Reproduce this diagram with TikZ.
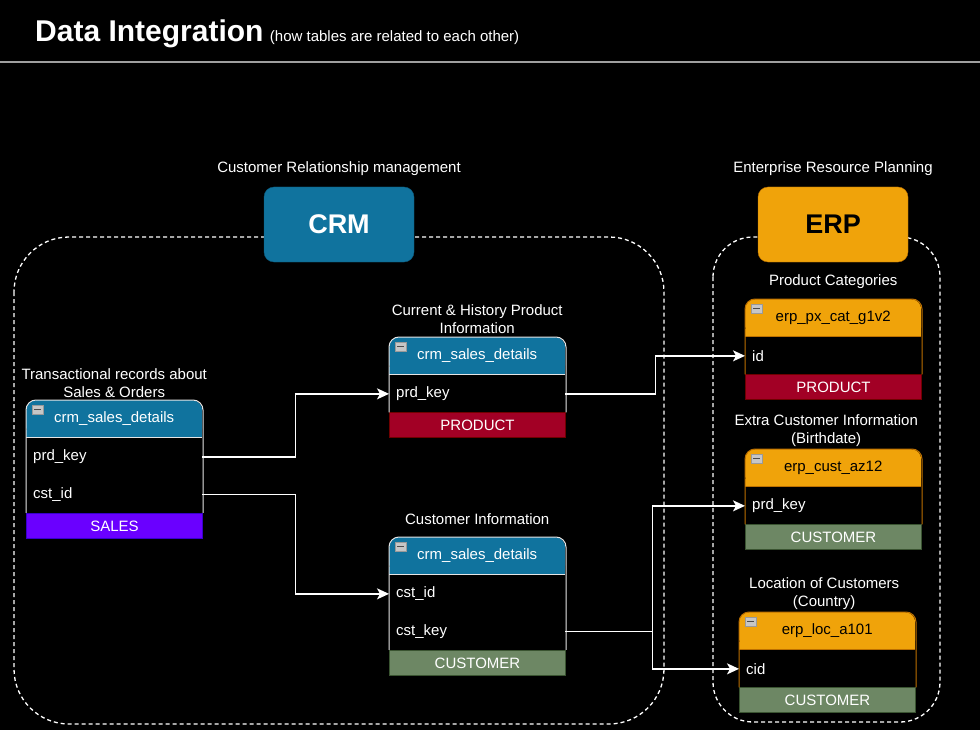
\documentclass[tikz,border=0pt]{standalone}
\usepackage{fontspec}
\setmainfont{Liberation Sans}
\usepackage{tikz}
\usetikzlibrary{arrows.meta,positioning,calc}
\definecolor{crmhead}{HTML}{10739E}
\definecolor{crmtext}{HTML}{FFFFFF}
\definecolor{crmline}{HTML}{E6E6E6}
\definecolor{erphead}{HTML}{F0A30A}
\definecolor{erptext}{HTML}{000000}
\definecolor{erpline}{HTML}{BD7000}
\definecolor{salesfill}{HTML}{6A00FF}
\definecolor{salesline}{HTML}{3700CC}
\definecolor{productfill}{HTML}{A20025}
\definecolor{productline}{HTML}{6F0000}
\definecolor{customerfill}{HTML}{6D8764}
\definecolor{customerline}{HTML}{3A5431}
\tikzset{
    base font/.style={font=\fontsize{15}{18}\selectfont},
    system box/.style={rounded corners=10pt,minimum width=150pt,minimum height=75pt,inner sep=0pt,font=\fontsize{27}{30}\selectfont\bfseries},
    area/.style={white,dash pattern=on 4pt off 3pt,line width=1.3pt},
    tbl head/.style={base font,minimum width=176pt,minimum height=37.5pt,inner sep=0pt,rounded corners=10pt},
    tbl row/.style={base font,text=white,text width=162pt,inner xsep=7pt,inner ysep=0pt,minimum height=37.5pt,align=left},
    tbl foot/.style={base font,text=white,minimum width=176pt,minimum height=25pt,inner sep=0pt,line width=1pt},
    tbl label/.style={base font,text=white,align=center,inner sep=1pt},
    minus box/.style={rectangle,minimum width=11pt,minimum height=9pt,inner sep=0pt,fill=gray!45,draw=gray!80,
        path picture={\draw[black!70,line width=1.4pt] ([xshift=2pt]path picture bounding box.west) -- ([xshift=-2pt]path picture bounding box.east);}},
    link/.style={white,line width=1.5pt,-{Stealth[length=12pt,width=11pt,inset=3pt]}},
}
% table: name, north west corner, scheme, title, rows, number of rows, footer kind
\newcommand{\dbtable}[7]{%
    \node[tbl head,fill=#3head,text=#3text,anchor=north west] (#1) at #2 {#4};
    \fill[#3head] ([yshift=8pt]#1.south west) rectangle (#1.south east);
    \foreach \rowkey/\rowtext [count=\rowno] in {#5}
        \node[tbl row,anchor=north west] (#1-\rowkey) at ([yshift={-(\rowno-1)*37.5pt}]#1.south west) {\rowtext};
    \node[tbl foot,fill=#7fill,draw=#7line,anchor=north west] (#1-foot) at ([yshift={-#6*37.5pt}]#1.south west) {\MakeUppercase{#7}};
    \draw[#3line,line width=1pt] (#1-foot.north west) [rounded corners=10pt] |- (#1.north) -| (#1-foot.north east);
    \draw[#3line,line width=1pt] (#1.south west) -- (#1.south east);
    \node[minus box,anchor=north west] at ([shift={(6pt,-5pt)}]#1.north west) {};
}

\begin{document}
\begin{tikzpicture}[x=1pt,y=-1pt]
    \fill[black] (0,0) rectangle (980,730);
    \useasboundingbox (0,0) rectangle (980,730);

    \node[anchor=base west,text=white,inner sep=0pt,font=\fontsize{30}{34}\selectfont\bfseries] (title) at (35,42) {Data Integration};
    \node[anchor=base west,text=white,inner sep=0pt,base font] (subtitle) at ([xshift=6pt]title.base east) {(how tables are related to each other)};
    \draw[gray!75,line width=1.2pt] (0,62) -- (980,62);

    % source systems
    \draw[area,rounded corners=55pt] (14,237) rectangle (664,724);
    \draw[area,rounded corners=40pt] (713,237) rectangle (940,722);
    \node[system box,fill=crmhead,draw=crmhead!80!black,text=white] (crm) at (339,224.5) {CRM};
    \node[system box,fill=erphead,draw=erpline,text=black] (erp) at (833,224.5) {ERP};
    \node[tbl label,above=10pt of crm] {Customer Relationship management};
    \node[tbl label,above=10pt of erp] {Enterprise Resource Planning};

    % tables
    \dbtable{t1}{(26,400)}{crm}{crm\_sales\_details}{prd/prd\_key, cst/cst\_id}{2}{sales}
    \dbtable{t2}{(389,337)}{crm}{crm\_sales\_details}{prd/prd\_key}{1}{product}
    \dbtable{t3}{(389,537)}{crm}{crm\_sales\_details}{cst/cst\_id, key/cst\_key}{2}{customer}
    \dbtable{e1}{(745,299)}{erp}{erp\_px\_cat\_g1v2}{id/id}{1}{product}
    \dbtable{e2}{(745,449)}{erp}{erp\_cust\_az12}{prd/prd\_key}{1}{customer}
    \dbtable{e3}{(739,612)}{erp}{erp\_loc\_a101}{cid/cid}{1}{customer}

    \node[tbl label,above=1pt of t1] {Transactional records about\\Sales \& Orders};
    \node[tbl label,above=2pt of t2] {Current \& History Product\\Information};
    \node[tbl label,above=11pt of t3] {Customer Information};
    \node[tbl label,above=9pt of e1] {Product Categories};
    \node[tbl label,above=1pt of e2,xshift=-7pt] {Extra Customer Information\\(Birthdate)};
    \node[tbl label,above=1pt of e3,xshift=-3pt] {Location of Customers\\(Country)};

    % relations
    \draw[link] (t1-prd.east) -- ++(93,0) |- (t2-prd.west);
    \draw[link] (t1-cst.east) -- ++(93,0) |- (t3-cst.west);
    \draw[link] (t2-prd.east) -- ++(90,0) |- (e1-id.west);
    \draw[link] (t3-key.east) -- ++(87,0) |- (e2-prd.west);
    \draw[link] (t3-key.east) -- ++(87,0) |- (e3-cid.west);
\end{tikzpicture}
\end{document}
